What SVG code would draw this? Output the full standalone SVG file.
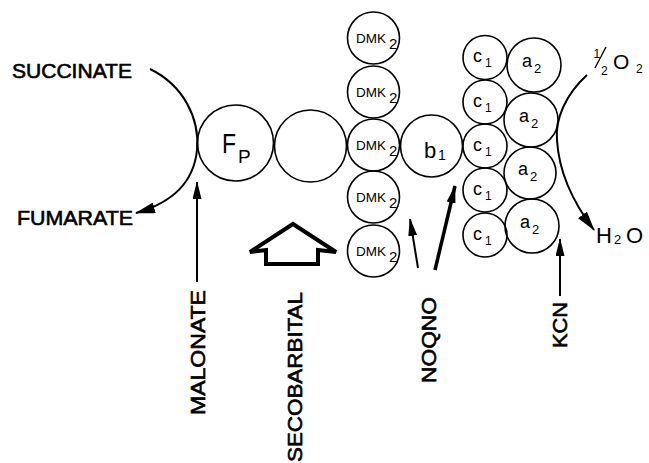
<svg xmlns="http://www.w3.org/2000/svg" width="649" height="463" viewBox="0 0 649 463">
  <style>
    .c { fill: none; stroke: #000; stroke-width: 1.6; }
    .t { font-family: "Liberation Sans", Arial, sans-serif; fill: #000; }
    .lbl { font-size: 20px; stroke: #000; stroke-width: 0.6; }
    .ln { fill: none; stroke: #000; stroke-width: 2; }
    .thick { fill: none; stroke: #000; stroke-width: 3.5; }
  </style>
  <defs>
    <marker id="head" viewBox="0 0 18 9" refX="17" refY="4.5" markerWidth="18" markerHeight="9" markerUnits="userSpaceOnUse" orient="auto">
      <path d="M0,0 L18,4.5 L0,9 Z" fill="#000"/>
    </marker>
    <marker id="headBig" viewBox="0 0 20 11" refX="19" refY="5.5" markerWidth="20" markerHeight="11" markerUnits="userSpaceOnUse" orient="auto">
      <path d="M0,0 L20,5.5 L0,11 Z" fill="#000"/>
    </marker>
  </defs>

  <!-- reaction labels -->
  <g id="succinate"><text class="t lbl" x="12" y="78" textLength="120" lengthAdjust="spacingAndGlyphs">SUCCINATE</text></g>
  <g id="fumarate"><text class="t lbl" x="17" y="225" textLength="116" lengthAdjust="spacingAndGlyphs">FUMARATE</text></g>

  <!-- flavoprotein -->
  <g id="fp">
    <circle class="c" cx="235.5" cy="143" r="38"/>
    <text class="t" x="222" y="153" font-size="28" textLength="14" lengthAdjust="spacingAndGlyphs">F</text>
    <text class="t" x="238" y="163" font-size="19">P</text>
  </g>
  <g id="nonheme"><circle class="c" cx="310.5" cy="146" r="36"/></g>

  <!-- DMK2 column -->
  <g id="dmk1"><circle class="c" cx="373.5" cy="38" r="26"/><text class="t" x="356" y="43" font-size="13.5">DMK</text><text class="t" x="389" y="49" font-size="15">2</text></g>
  <g id="dmk2"><circle class="c" cx="373.5" cy="92" r="26"/><text class="t" x="356" y="97" font-size="13.5">DMK</text><text class="t" x="389" y="103" font-size="15">2</text></g>
  <g id="dmk3"><circle class="c" cx="373.5" cy="145" r="26"/><text class="t" x="356" y="150" font-size="13.5">DMK</text><text class="t" x="389" y="156" font-size="15">2</text></g>
  <g id="dmk4"><circle class="c" cx="373.5" cy="197" r="26"/><text class="t" x="356" y="202" font-size="13.5">DMK</text><text class="t" x="389" y="208" font-size="15">2</text></g>
  <g id="dmk5"><circle class="c" cx="373.5" cy="251" r="26"/><text class="t" x="356" y="256" font-size="13.5">DMK</text><text class="t" x="389" y="262" font-size="15">2</text></g>

  <!-- cytochrome b1 -->
  <g id="b1">
    <circle class="c" cx="431.5" cy="146" r="31"/>
    <text class="t" x="424" y="158" font-size="22">b</text>
    <text class="t" x="438" y="160" font-size="14">1</text>
  </g>

  <!-- cytochrome c1 column -->
  <g id="c1a"><circle class="c" cx="485" cy="57.5" r="22"/><text class="t" x="473" y="62" font-size="18">c</text><text class="t" x="485" y="67" font-size="12">1</text></g>
  <g id="c1b"><circle class="c" cx="485" cy="102" r="22"/><text class="t" x="473" y="106.5" font-size="18">c</text><text class="t" x="485" y="111.5" font-size="12">1</text></g>
  <g id="c1c"><circle class="c" cx="485" cy="146" r="22"/><text class="t" x="473" y="150.5" font-size="18">c</text><text class="t" x="485" y="155.5" font-size="12">1</text></g>
  <g id="c1d"><circle class="c" cx="485" cy="190" r="22"/><text class="t" x="473" y="194.5" font-size="18">c</text><text class="t" x="485" y="199.5" font-size="12">1</text></g>
  <g id="c1e"><circle class="c" cx="485" cy="235" r="22"/><text class="t" x="473" y="239.5" font-size="18">c</text><text class="t" x="485" y="244.5" font-size="12">1</text></g>

  <!-- cytochrome a2 column -->
  <g id="a2a"><circle class="c" cx="534" cy="65" r="27"/><text class="t" x="522" y="67" font-size="18">a</text><text class="t" x="534" y="73" font-size="13">2</text></g>
  <g id="a2b"><circle class="c" cx="531" cy="120" r="27"/><text class="t" x="519" y="122" font-size="18">a</text><text class="t" x="531" y="128" font-size="13">2</text></g>
  <g id="a2c"><circle class="c" cx="530" cy="173" r="26"/><text class="t" x="518" y="175" font-size="18">a</text><text class="t" x="530" y="181" font-size="13">2</text></g>
  <g id="a2d"><circle class="c" cx="532" cy="226" r="27"/><text class="t" x="520" y="228" font-size="18">a</text><text class="t" x="532" y="234" font-size="13">2</text></g>

  <!-- oxygen / water -->
  <g id="o2">
    <text class="t" x="593.5" y="58" font-size="12">1</text>
    <line x1="595" y1="68" x2="606" y2="47" stroke="#000" stroke-width="1.4"/>
    <text class="t" x="601" y="75" font-size="12">2</text>
    <text class="t" x="613" y="69" font-size="21">O</text>
    <text class="t" x="636" y="73" font-size="12">2</text>
  </g>
  <g id="h2o">
    <text class="t" x="596" y="243" font-size="22">H</text>
    <text class="t" x="614" y="244" font-size="13">2</text>
    <text class="t" x="626" y="243" font-size="22">O</text>
  </g>

  <!-- inhibitor labels -->
  <g id="malonate"><text class="t lbl" transform="translate(205,415) rotate(-90)" textLength="125" lengthAdjust="spacingAndGlyphs">MALONATE</text></g>
  <g id="secobarbital"><text class="t lbl" transform="translate(302,462) rotate(-90)" textLength="170" lengthAdjust="spacingAndGlyphs">SECOBARBITAL</text></g>
  <g id="noqno"><text class="t lbl" transform="translate(436,383) rotate(-90)" textLength="86" lengthAdjust="spacingAndGlyphs">NOQNO</text></g>
  <g id="kcn"><text class="t lbl" transform="translate(567,348) rotate(-90)" textLength="46" lengthAdjust="spacingAndGlyphs">KCN</text></g>

  <!-- connectors -->
  <g id="connectors">
    <path class="ln" d="M150,69 C183,85 200,118 197,150 C194,180 175,202 136,213" marker-end="url(#headBig)"/>
    <path class="ln" d="M587,75 C565,95 555,120 557,140 C559,175 575,205 594,230" marker-end="url(#headBig)"/>
    <path class="ln" d="M197,282 L197,182" marker-end="url(#head)"/>
    <path d="M293,224 L336,252 L318,250 L318,264 L266,264 L266,250 L250,252 Z" fill="#fff" stroke="#000" stroke-width="4" stroke-linejoin="miter"/>
    <path class="ln" d="M418,268 L410,219" marker-end="url(#head)"/>
    <path class="thick" d="M435,270 L455,186" marker-end="url(#head)"/>
    <path class="ln" d="M560,296 L560,239" marker-end="url(#head)"/>
  </g>
</svg>
